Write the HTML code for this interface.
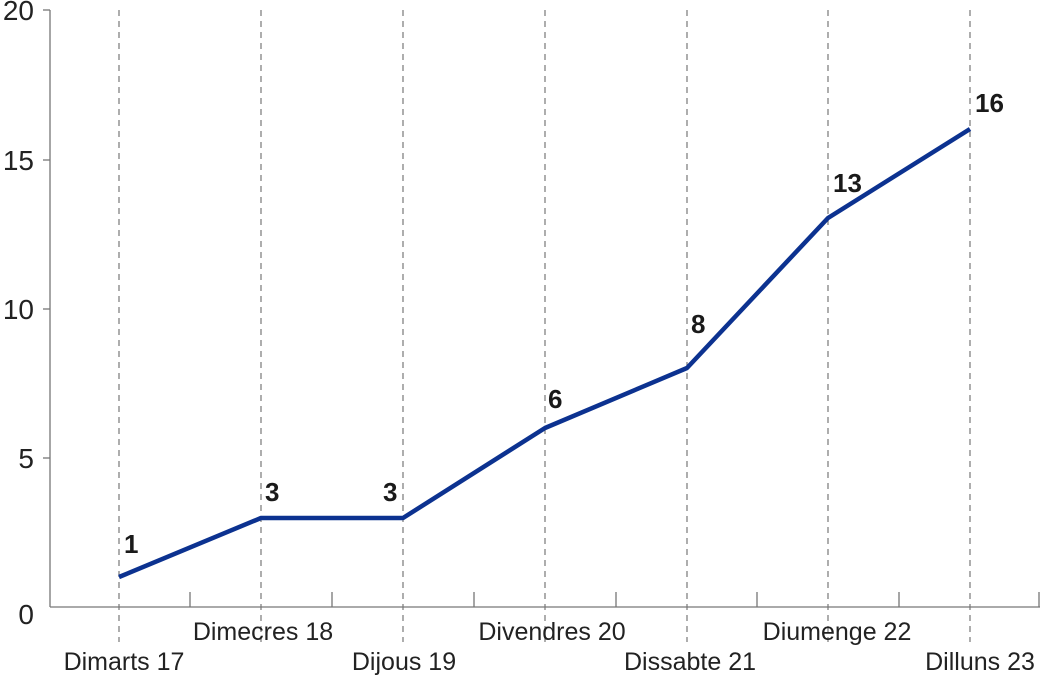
<!DOCTYPE html>
<html><head><meta charset="utf-8"><style>body{margin:0;background:#fff}svg{display:block}</style></head><body>
<svg width="1040" height="677" xmlns="http://www.w3.org/2000/svg" font-family="Liberation Sans, sans-serif">
<g stroke="#777" stroke-width="1.3" fill="none">
<line x1="50" y1="10" x2="50" y2="607"/>
<line x1="50" y1="607" x2="1040" y2="607"/>
<line x1="43" y1="10" x2="50" y2="10"/><line x1="43" y1="160" x2="50" y2="160"/><line x1="43" y1="309" x2="50" y2="309"/><line x1="43" y1="458" x2="50" y2="458"/>
<line x1="190" y1="592" x2="190" y2="607"/><line x1="332" y1="592" x2="332" y2="607"/><line x1="474" y1="592" x2="474" y2="607"/><line x1="616" y1="592" x2="616" y2="607"/><line x1="757" y1="592" x2="757" y2="607"/><line x1="899" y1="592" x2="899" y2="607"/><line x1="1039" y1="592" x2="1039" y2="607"/>
</g>
<g stroke="#777" stroke-width="1.2" stroke-dasharray="6,5">
<line x1="119" y1="10" x2="119" y2="642"/><line x1="261" y1="10" x2="261" y2="642"/><line x1="403" y1="10" x2="403" y2="642"/><line x1="545" y1="10" x2="545" y2="642"/><line x1="687" y1="10" x2="687" y2="642"/><line x1="828" y1="10" x2="828" y2="642"/><line x1="970" y1="10" x2="970" y2="642"/>
</g>
<g font-size="28" fill="#222" text-anchor="end">
<text x="34" y="20">20</text><text x="34" y="170">15</text><text x="34" y="319">10</text><text x="34" y="468">5</text><text x="34" y="624">0</text>
</g>
<polyline points="119,577 261,518 403,518 545,428 687,368 828,218 970,129" fill="none" stroke="#0c3290" stroke-width="4.5" stroke-linejoin="round"/>
<g font-size="26" font-weight="bold" fill="#1a1a1a">
<text x="124" y="553">1</text><text x="265" y="501">3</text><text x="383" y="501">3</text><text x="548" y="408">6</text><text x="691" y="333">8</text><text x="833" y="192">13</text><text x="975" y="112">16</text>
</g>
<g font-size="25" fill="#222" text-anchor="middle">
<text x="124" y="670">Dimarts 17</text><text x="263" y="640">Dimecres 18</text><text x="404" y="670">Dijous 19</text><text x="552" y="640">Divendres 20</text><text x="690" y="670">Dissabte 21</text><text x="837" y="640">Diumenge 22</text><text x="980" y="670">Dilluns 23</text>
</g>
</svg>
</body></html>
